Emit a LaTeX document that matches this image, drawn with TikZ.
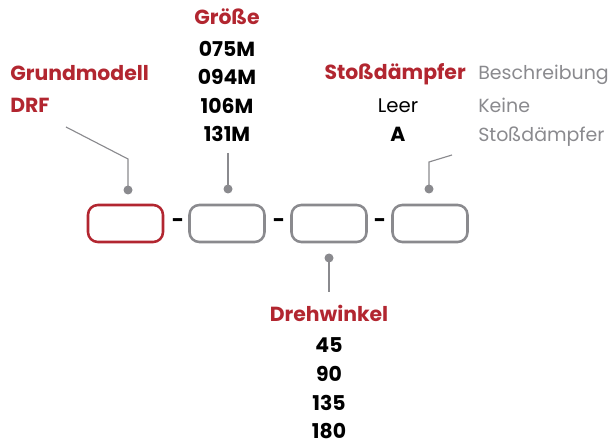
\documentclass[tikz,border=0pt]{standalone}
\usepackage{fontspec}
\setmainfont{Poppins}
\definecolor{rotton}{RGB}{178,38,48}
\definecolor{grauton}{RGB}{138,138,142}
\begin{document}
\begin{tikzpicture}[
    x=0.025cm, y=-0.025cm,
    feld/.style={rectangle, draw=grauton, line width=1.8pt, rounded corners=7pt, minimum width=75*0.025cm, minimum height=37*0.025cm, inner sep=0pt},
    punkt/.style={circle, fill=grauton, inner sep=0pt, minimum size=9*0.025cm},
    fuehrung/.style={grauton, line width=0.8pt},
    titel/.style={font=\fontsize{14.5}{16}\selectfont\bfseries, text=rotton, inner sep=0pt},
    wert/.style={font=\fontsize{14.5}{16}\selectfont\bfseries, text=black, inner sep=0pt},
    info/.style={font=\fontsize{13.5}{16}\selectfont, text=grauton, inner sep=0pt},
    strich/.style={font=\fontsize{15}{16}\selectfont\bfseries, inner sep=0pt},
]
\useasboundingbox (0,0) rectangle (609,444);

% Felder des Typschluessels
\node (feld1) [feld, draw=rotton] at (125.5,223.5) {};
\node (feld2) [feld] at (227,223.5) {};
\node (feld3) [feld] at (329,223.5) {};
\node (feld4) [feld] at (430,223.5) {};

\node (strich1) [strich] at (178,223) {-};
\node (strich2) [strich] at (279,223) {-};
\node (strich3) [strich] at (380,223) {-};

% Grundmodell
\node (grund) [titel, anchor=base west] at (10,81) {Grundmodell};
\node (drf) [titel, anchor=base west] at (10,113) {DRF};

% Groesse
\node (groesse) [titel, anchor=base] at (227,25) {Größe};
\node (g075) [wert, anchor=base] at (227,57) {075M};
\node (g094) [wert, anchor=base] at (227,85) {094M};
\node (g106) [wert, anchor=base] at (227,114) {106M};
\node (g131) [wert, anchor=base] at (227,142) {131M};

% Stossdaempfer
\node (stoss) [titel, anchor=base east] at (466,80) {Stoßdämpfer};
\node (beschr) [info, anchor=base west] at (478,80) {Beschreibung};
\node (leer) [wert, font=\fontsize{14}{16}\selectfont, anchor=base] at (398,113) {Leer};
\node (keine) [info, anchor=base west] at (478,113) {Keine};
\node (optA) [wert, anchor=base] at (398,142) {A};
\node (daempfer) [info, anchor=base west] at (478,142) {Stoßdämpfer};

% Drehwinkel
\node (dreh) [titel, anchor=base] at (329,321) {Drehwinkel};
\node (w45) [wert, anchor=base] at (329,352) {45};
\node (w90) [wert, anchor=base] at (329,381) {90};
\node (w135) [wert, anchor=base] at (329,410) {135};
\node (w180) [wert, anchor=base] at (329,438) {180};

% Punkte und Fuehrungslinien
\node (punkt1) [punkt] at (128,190) {};
\node (punkt2) [punkt] at (228,189) {};
\node (punkt3) [punkt] at (329,258) {};
\node (punkt4) [punkt] at (429,189) {};

\coordinate (ende1) at (66,127);
\coordinate (knick1) at (128,159);
\coordinate (ende2) at (228,153);
\coordinate (ende3) at (329,292);
\coordinate (ende4) at (452,155);
\coordinate (knick4) at (429,162);

\draw [fuehrung] (ende1) -- (knick1) -- (punkt1.center);
\draw [fuehrung] (ende2) -- (punkt2.center);
\draw [fuehrung] (ende3) -- (punkt3.center);
\draw [fuehrung] (ende4) -- (knick4) -- (punkt4.center);

\end{tikzpicture}
\end{document}
